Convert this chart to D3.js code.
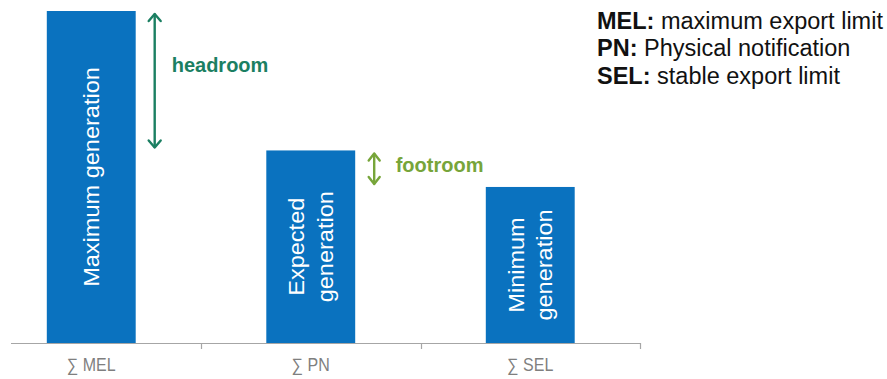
<!DOCTYPE html>
<html>
<head>
<meta charset="utf-8">
<script src="https://cdn.jsdelivr.net/npm/d3@7"></script>
<style>
  html, body { margin: 0; padding: 0; background: #fff; }
  svg { display: block; font-family: Arial, "Liberation Sans", sans-serif; }
</style>
</head>
<body>
<svg id="chart" width="887" height="379"></svg>
<script>
// Aggregated generation levels per declaration type (relative units)
const categories = ["∑ MEL", "∑ PN", "∑ SEL"];
const values = [100, 58, 47];
const barLabels = [["Maximum generation"], ["Expected", "generation"], ["Minimum", "generation"]];

// Margin annotations between neighbouring bars
const margins = [
  { name: "headroom", from: 0, to: 1, color: "#1b7f62" },
  { name: "footroom", from: 1, to: 2, color: "#77a53a" }
];

// Abbreviation key
const legendKeys = ["MEL:", "PN:", "SEL:"];
const legendTexts = ["maximum export limit", "Physical notification", "stable export limit"];

const svg = d3.select("#chart");

const x = d3.scaleBand().domain(categories).range([-18.5, 640]).padding(0);
const y = d3.scaleLinear().domain([0, 100]).range([343, 11]);

const barW = x.step() * 0.405;
const barX = c => x(c) + (x.bandwidth() - barW) / 2;
const barCx = c => x(c) + x.bandwidth() / 2;

// Bars
svg.append("g").selectAll("rect")
  .data(categories)
  .join("rect")
  .attr("x", c => barX(c))
  .attr("y", (c, i) => y(values[i]))
  .attr("width", barW)
  .attr("height", (c, i) => y(0) - y(values[i]))
  .attr("fill", "#0a72bf");

// Rotated labels inside the bars
const lineH = 28.5;
categories.forEach((c, i) => {
  const cx = barCx(c);
  const cy = (y(values[i]) + y(0)) / 2;
  const lines = barLabels[i];
  const g = svg.append("g")
    .attr("transform", `translate(${cx},${cy}) rotate(-90) scale(1.07,1)`);
  lines.forEach((t, k) => {
    g.append("text")
      .attr("x", 0)
      .attr("y", (k - (lines.length - 1) / 2) * lineH)
      .attr("dy", "0.36em")
      .attr("text-anchor", "middle")
      .attr("fill", "#ffffff")
      .attr("font-size", 22)
      .text(t);
  });
});

// Axis: baseline with boundary ticks and category labels
const axisColor = "#a6a6a6";
const axisG = svg.append("g");
axisG.append("line")
  .attr("x1", 11).attr("x2", x.range()[1])
  .attr("y1", y(0) + 0.5).attr("y2", y(0) + 0.5)
  .attr("stroke", axisColor).attr("stroke-width", 1.2);
axisG.selectAll("line.tick")
  .data(categories)
  .join("line")
  .attr("class", "tick")
  .attr("x1", c => Math.round(x(c) + x.step()) + 0.5)
  .attr("x2", c => Math.round(x(c) + x.step()) + 0.5)
  .attr("y1", y(0)).attr("y2", y(0) + 6)
  .attr("stroke", axisColor).attr("stroke-width", 1.2);
axisG.selectAll("text")
  .data(categories)
  .join("text")
  .attr("transform", c => `translate(${barCx(c)},370.5) scale(1,1.12)`)
  .attr("text-anchor", "middle")
  .attr("fill", "#7f7f7f")
  .attr("font-size", 16)
  .text(c => c);

// Double-headed arrows with labels
const arrowOffset = 19;
const arrowInset = [3, 3];
margins.forEach((m, idx) => {
  const c = categories[m.from];
  const ax = barX(c) + barW + arrowOffset;
  const y1 = y(values[m.from]) + arrowInset[0];
  const y2 = y(values[m.to]) - arrowInset[1];
  const head = idx === 0 ? { w: 6, h: 7 } : { w: 5.5, h: 7 };
  const g = svg.append("g")
    .attr("stroke", m.color).attr("stroke-width", 2.4)
    .attr("fill", "none").attr("stroke-linecap", "round").attr("stroke-linejoin", "round");
  g.append("line").attr("x1", ax).attr("x2", ax).attr("y1", y1 + 0.5).attr("y2", y2 - 0.5);
  g.append("path").attr("d", `M${ax - head.w},${y1 + head.h} L${ax},${y1} L${ax + head.w},${y1 + head.h}`);
  g.append("path").attr("d", `M${ax - head.w},${y2 - head.h} L${ax},${y2} L${ax + head.w},${y2 - head.h}`);
  const ty = idx === 0 ? y1 + 58 : y1 + 19;
  svg.append("text")
    .attr("x", ax + (idx === 0 ? 17 : 21.5))
    .attr("y", ty)
    .attr("fill", m.color)
    .attr("font-size", 20)
    .attr("font-weight", "bold")
    .text(m.name);
});

// Abbreviation key, top right
const legend = svg.append("g").attr("transform", "translate(597,0)");
legendKeys.forEach((k, i) => {
  const t = legend.append("text")
    .attr("x", 0)
    .attr("y", 28.5 + i * 27.8)
    .attr("fill", "#111")
    .attr("font-size", 23.5);
  t.append("tspan").attr("font-weight", "bold").text(k);
  t.append("tspan").text(" " + legendTexts[i]);
});
</script>
</body>
</html>
